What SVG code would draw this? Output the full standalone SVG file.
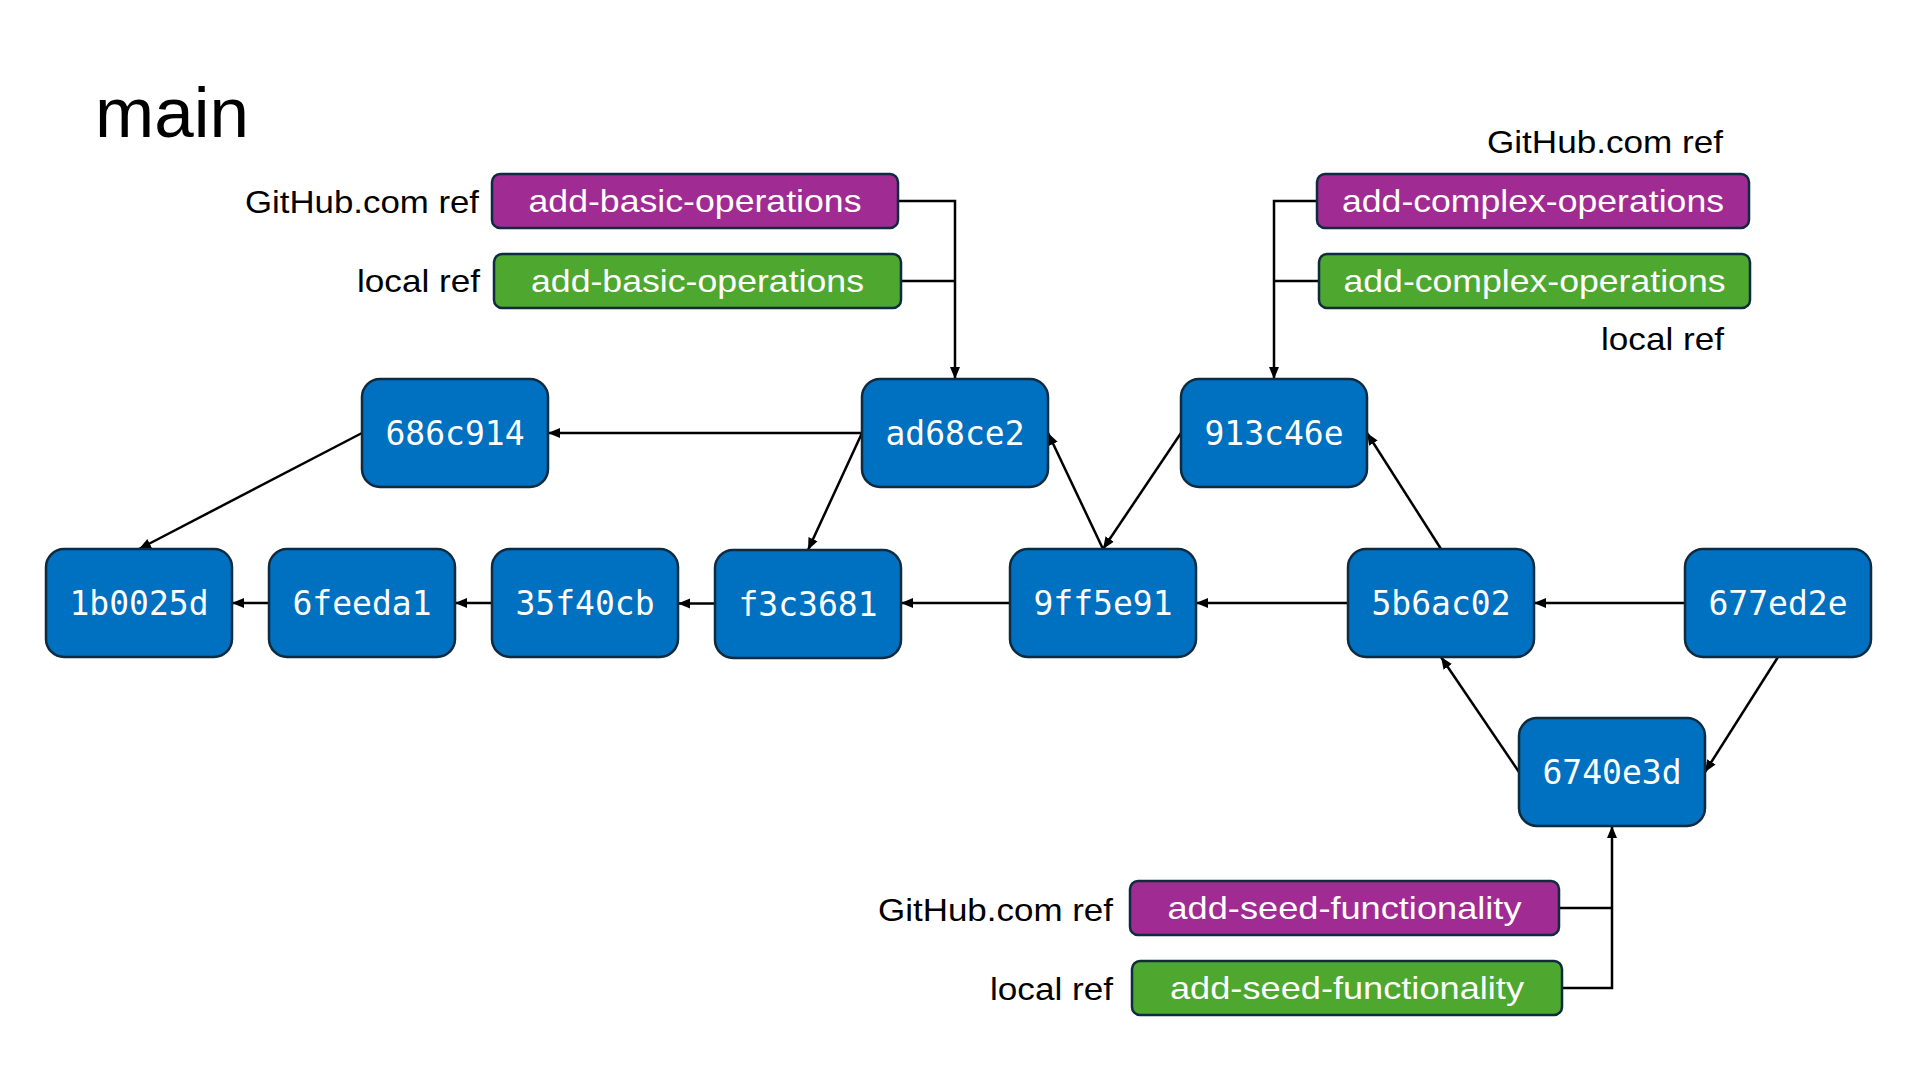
<svg xmlns="http://www.w3.org/2000/svg" width="1920" height="1080" viewBox="0 0 1920 1080">
<defs>
<style>
.commit rect{fill:#0070C0;stroke:#0E2B3F;stroke-width:2.5}
.commit text{font-family:"DejaVu Sans Mono","Liberation Mono",monospace;font-size:33px;fill:#fff;text-anchor:middle}
.ref rect{stroke:#0E2B3F;stroke-width:2.5}
.gh rect{fill:#A02B93}
.loc rect{fill:#4EA72E}
.ref text{font-family:"Liberation Sans",Arial,sans-serif;font-size:32px;fill:#fff;text-anchor:middle}
.lbl{font-family:"Liberation Sans",Arial,sans-serif;font-size:32px;fill:#000;text-anchor:end}
.edges path{fill:none;stroke:#000;stroke-width:2.5}
</style>
<marker id="arr" markerUnits="userSpaceOnUse" markerWidth="14" markerHeight="12" refX="12" refY="6" orient="auto">
<path d="M0,1 L12,6 L0,11 Z" fill="#000"/>
</marker>
</defs>
<rect width="1920" height="1080" fill="#fff"/>
<text x="95" y="137" font-family="Liberation Sans,Arial,sans-serif" font-size="71" fill="#000">main</text>

<g id="labels">
<text class="lbl" x="479" y="213" textLength="234" lengthAdjust="spacingAndGlyphs">GitHub.com ref</text>
<text class="lbl" x="480" y="292" textLength="123" lengthAdjust="spacingAndGlyphs">local ref</text>
<text class="lbl" x="1723" y="153" textLength="236" lengthAdjust="spacingAndGlyphs">GitHub.com ref</text>
<text class="lbl" x="1724" y="350" textLength="123" lengthAdjust="spacingAndGlyphs">local ref</text>
<text class="lbl" x="1113" y="921" textLength="235" lengthAdjust="spacingAndGlyphs">GitHub.com ref</text>
<text class="lbl" x="1113" y="1000" textLength="123" lengthAdjust="spacingAndGlyphs">local ref</text>
</g>

<g class="edges" id="connectors">
<path d="M862,433 L548,433" marker-end="url(#arr)"/>
<path d="M362,433 L139,549" marker-end="url(#arr)"/>
<path d="M269,603 L232,603" marker-end="url(#arr)"/>
<path d="M492,603 L455,603" marker-end="url(#arr)"/>
<path d="M715,603.5 L678,603.5" marker-end="url(#arr)"/>
<path d="M1010,603 L901,603" marker-end="url(#arr)"/>
<path d="M862,433 L808,550" marker-end="url(#arr)"/>
<path d="M1103,549 L1048,433" marker-end="url(#arr)"/>
<path d="M1181,433 L1103,549" marker-end="url(#arr)"/>
<path d="M1348,603 L1196,603" marker-end="url(#arr)"/>
<path d="M1441,549 L1367,433" marker-end="url(#arr)"/>
<path d="M1685,603 L1534,603" marker-end="url(#arr)"/>
<path d="M1778,657 L1705,772" marker-end="url(#arr)"/>
<path d="M1519,772 L1441,657" marker-end="url(#arr)"/>
<path d="M898,201 H955 V379" marker-end="url(#arr)"/>
<path d="M901,281 H955"/>
<path d="M1317,201 H1274 V379" marker-end="url(#arr)"/>
<path d="M1319,281 H1274"/>
<path d="M1562,988 H1612 V826" marker-end="url(#arr)"/>
<path d="M1560,908 H1612"/>
</g>

<g id="ref-gh-basic" class="ref gh"><rect x="492" y="174" width="406" height="54" rx="8"/><text x="695" y="212" textLength="333" lengthAdjust="spacingAndGlyphs">add-basic-operations</text></g>
<g id="ref-local-basic" class="ref loc"><rect x="494" y="254" width="407" height="54" rx="8"/><text x="697.5" y="292" textLength="333" lengthAdjust="spacingAndGlyphs">add-basic-operations</text></g>
<g id="ref-gh-complex" class="ref gh"><rect x="1317" y="174" width="432" height="54" rx="8"/><text x="1533" y="212" textLength="382" lengthAdjust="spacingAndGlyphs">add-complex-operations</text></g>
<g id="ref-local-complex" class="ref loc"><rect x="1319" y="254" width="431" height="54" rx="8"/><text x="1534.5" y="292" textLength="382" lengthAdjust="spacingAndGlyphs">add-complex-operations</text></g>
<g id="ref-gh-seed" class="ref gh"><rect x="1130" y="881" width="429" height="54" rx="8"/><text x="1344.5" y="919" textLength="354" lengthAdjust="spacingAndGlyphs">add-seed-functionality</text></g>
<g id="ref-local-seed" class="ref loc"><rect x="1132" y="961" width="430" height="54" rx="8"/><text x="1347" y="999" textLength="354" lengthAdjust="spacingAndGlyphs">add-seed-functionality</text></g>

<g id="c-686c914" class="commit"><rect x="362" y="379" width="186" height="108" rx="18"/><text x="455" y="445">686c914</text></g>
<g id="c-ad68ce2" class="commit"><rect x="862" y="379" width="186" height="108" rx="18"/><text x="955" y="445">ad68ce2</text></g>
<g id="c-913c46e" class="commit"><rect x="1181" y="379" width="186" height="108" rx="18"/><text x="1274" y="445">913c46e</text></g>
<g id="c-1b0025d" class="commit"><rect x="46" y="549" width="186" height="108" rx="18"/><text x="139" y="615">1b0025d</text></g>
<g id="c-6feeda1" class="commit"><rect x="269" y="549" width="186" height="108" rx="18"/><text x="362" y="615">6feeda1</text></g>
<g id="c-35f40cb" class="commit"><rect x="492" y="549" width="186" height="108" rx="18"/><text x="585" y="615">35f40cb</text></g>
<g id="c-f3c3681" class="commit"><rect x="715" y="550" width="186" height="108" rx="18"/><text x="808" y="616">f3c3681</text></g>
<g id="c-9ff5e91" class="commit"><rect x="1010" y="549" width="186" height="108" rx="18"/><text x="1103" y="615">9ff5e91</text></g>
<g id="c-5b6ac02" class="commit"><rect x="1348" y="549" width="186" height="108" rx="18"/><text x="1441" y="615">5b6ac02</text></g>
<g id="c-677ed2e" class="commit"><rect x="1685" y="549" width="186" height="108" rx="18"/><text x="1778" y="615">677ed2e</text></g>
<g id="c-6740e3d" class="commit"><rect x="1519" y="718" width="186" height="108" rx="18"/><text x="1612" y="784">6740e3d</text></g>
</svg>
